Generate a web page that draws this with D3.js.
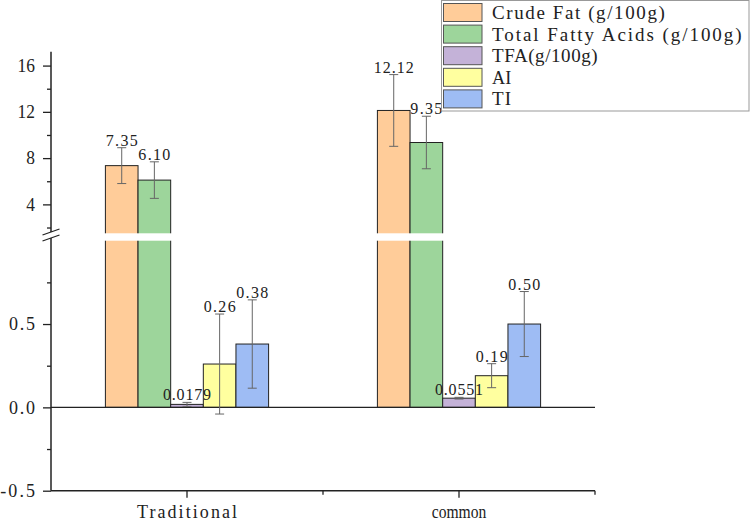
<!DOCTYPE html>
<html>
<head>
<meta charset="utf-8">
<script src="https://cdn.jsdelivr.net/npm/d3@7"></script>
<style>
  body { margin: 0; background: #fff; }
  text { font-family: "Liberation Serif", serif; fill: #222; }
</style>
</head>
<body>
<script>
// groups on the x axis
var groups = ["Traditional", "common"];
// series names (legend order)
var series = ["Crude Fat (g/100g)", "Total Fatty Acids (g/100g)", "TFA(g/100g)", "AI", "TI"];
var colors = ["#FFCC99", "#9DD59B", "#C4B2D8", "#FFFF9F", "#9EBCF4"];
// means, one array per group in series order
var traditionalVals = [7.35, 6.10, 0.0179, 0.26, 0.38];
var commonVals = [12.12, 9.35, 0.0551, 0.19, 0.50];
// standard deviations
var traditionalErr = [1.55, 1.58, 0.012, 0.30, 0.265];
var commonErr = [3.1, 2.27, 0.005, 0.072, 0.195];
// tick values for the two axis segments
var lowTicks = [-0.5, 0.0, 0.5];
var lowMinor = [-0.25, 0.25, 0.75];
var highTicks = [4, 8, 12, 16];
var highMinor = [2, 6, 10, 14];

// spread each character into a fixed cell, like the half-width font of the original
function mono(sel, cw) {
    sel.each(function () {
        var t = d3.select(this);
        var target = t.text().length * cw;
        var natural = this.getComputedTextLength();
        t.attr("textLength", target)
            .attr("lengthAdjust", natural > target ? "spacingAndGlyphs" : "spacing");
    });
}

window.onload = function () {
    var w = 750, h = 522;
    var svg = d3.select("body").append("svg")
        .attr("width", w)
        .attr("height", h);

    var left = 51, right = 595;
    // lower segment and upper segment of the broken axis
    var yLow = d3.scaleLinear().domain([-0.5, 1.0]).range([490.7, 240.7]);
    var yHigh = d3.scaleLinear().domain([1.5, 17.2]).range([233.3, 51.7]);
    function y(v) {
        if (v <= 1.0) return yLow(v);
        if (v >= 1.5) return yHigh(v);
        return 240.7 + (v - 1.0) / 0.5 * (233.3 - 240.7);
    }

    var x0 = d3.scaleBand().domain(groups).range([left, right]).padding(0);
    var x1 = d3.scaleBand().domain(series)
        .range([x0.bandwidth() * 0.2, x0.bandwidth() * 0.8]).padding(0);

    var rows = [
        {group: "Traditional", vals: traditionalVals, errs: traditionalErr},
        {group: "common", vals: commonVals, errs: commonErr}
    ];
    var data = [];
    rows.forEach(function (r) {
        series.forEach(function (s, i) {
            data.push({group: r.group, name: s, value: r.vals[i], err: r.errs[i], color: colors[i]});
        });
    });

    // bars
    svg.selectAll(".bar")
        .data(data)
        .enter()
        .append("rect")
        .attr("class", "bar")
        .attr("x", function (d) { return x0(d.group) + x1(d.name); })
        .attr("width", x1.bandwidth())
        .attr("y", function (d) { return y(d.value); })
        .attr("height", function (d) { return y(0) - y(d.value); })
        .style("fill", function (d) { return d.color; })
        .style("stroke", "#222")
        .style("stroke-width", 1);

    // white strip for the axis break
    svg.append("rect")
        .attr("x", left + 1)
        .attr("y", 233.3)
        .attr("width", right - left - 1)
        .attr("height", 240.7 - 233.3)
        .style("fill", "#fff");

    // zero line
    svg.append("line")
        .attr("x1", left).attr("x2", right)
        .attr("y1", y(0)).attr("y2", y(0))
        .style("stroke", "#222").style("stroke-width", 1.3);

    // error bars
    var eb = svg.selectAll(".err")
        .data(data)
        .enter()
        .append("g")
        .attr("class", "err")
        .style("stroke", "#666")
        .style("stroke-width", 1);
    function cx(d) { return x0(d.group) + x1(d.name) + x1.bandwidth() / 2; }
    eb.append("line")
        .attr("x1", cx).attr("x2", cx)
        .attr("y1", function (d) { return y(d.value + d.err); })
        .attr("y2", function (d) { return y(d.value - d.err); });
    eb.append("line")
        .attr("x1", function (d) { return cx(d) - 4.5; })
        .attr("x2", function (d) { return cx(d) + 4.5; })
        .attr("y1", function (d) { return y(d.value + d.err); })
        .attr("y2", function (d) { return y(d.value + d.err); });
    eb.append("line")
        .attr("x1", function (d) { return cx(d) - 4.5; })
        .attr("x2", function (d) { return cx(d) + 4.5; })
        .attr("y1", function (d) { return y(d.value - d.err); })
        .attr("y2", function (d) { return y(d.value - d.err); });

    // value labels
    var vl = svg.selectAll(".vlabel")
        .data(data)
        .enter()
        .append("text")
        .attr("class", "vlabel")
        .attr("text-anchor", "middle")
        .attr("x", cx)
        .attr("y", function (d) { return y(d.value + d.err) - 2; })
        .attr("font-size", 16)
        .text(function (d) { return d.value < 0.1 ? d.value.toFixed(4) : d.value.toFixed(2); });
    mono(vl, 8);

    // y axes (two segments)
    var fmtLow = function (d) { return d.toFixed(1); };
    var gLow = svg.append("g")
        .attr("transform", "translate(" + left + ",0)")
        .call(d3.axisLeft(yLow).tickValues(lowTicks).tickSize(8).tickPadding(8).tickFormat(fmtLow));
    var gLowMinor = svg.append("g")
        .attr("transform", "translate(" + left + ",0)")
        .call(d3.axisLeft(yLow).tickValues(lowMinor).tickSize(4).tickFormat(""));
    var gHigh = svg.append("g")
        .attr("transform", "translate(" + left + ",0)")
        .call(d3.axisLeft(yHigh).tickValues(highTicks).tickSize(8).tickPadding(8));
    var gHighMinor = svg.append("g")
        .attr("transform", "translate(" + left + ",0)")
        .call(d3.axisLeft(yHigh).tickValues(highMinor).tickSize(4).tickFormat(""));
    [gLow, gLowMinor, gHigh, gHighMinor].forEach(function (g) {
        g.attr("font-family", null).attr("font-size", null);
        g.select(".domain").remove();
        g.selectAll("line").style("stroke", "#222").style("stroke-width", 1.3);
        g.selectAll("text").style("font-family", "Liberation Serif").style("font-size", "18px").style("fill", "#222");
        g.selectAll("text").text(function () { return d3.select(this).text().replace("\u2212", "-"); });
        mono(g.selectAll("text"), 8.7);
    });
    // axis line pieces
    svg.append("line")
        .attr("x1", left).attr("x2", left)
        .attr("y1", yLow.range()[0]).attr("y2", 238)
        .style("stroke", "#222").style("stroke-width", 1.5);
    svg.append("line")
        .attr("x1", left).attr("x2", left)
        .attr("y1", 232).attr("y2", yHigh.range()[1])
        .style("stroke", "#222").style("stroke-width", 1.5);
    // break marks
    [0, 6].forEach(function (off) {
        svg.append("line")
            .attr("x1", 42.5).attr("y1", 235 + off)
            .attr("x2", 59.5).attr("y2", 229 + off)
            .style("stroke", "#222").style("stroke-width", 1.3);
    });

    // x axis at bottom
    var xBottom = yLow.range()[0];
    svg.append("line")
        .attr("x1", left).attr("x2", right)
        .attr("y1", xBottom).attr("y2", xBottom)
        .style("stroke", "#222").style("stroke-width", 1.5);
    var gx = svg.append("g")
        .attr("transform", "translate(0," + xBottom + ")")
        .call(d3.axisBottom(x0).tickSize(7).tickPadding(8));
    gx.attr("font-family", null).attr("font-size", null);
    gx.select(".domain").remove();
    gx.selectAll("line").style("stroke", "#222").style("stroke-width", 1.3);
    gx.selectAll("text").style("font-family", "Liberation Serif").style("font-size", "18px").style("fill", "#222");
    mono(gx.selectAll("text"), 9.1);
    // minor ticks at group boundaries
    var bounds = [x0("common"), right];
    svg.selectAll(".xminor")
        .data(bounds)
        .enter()
        .append("line")
        .attr("x1", function (d) { return d; }).attr("x2", function (d) { return d; })
        .attr("y1", xBottom).attr("y2", xBottom + 4)
        .style("stroke", "#222").style("stroke-width", 1.3);

    // legend
    var legend = svg.append("g").attr("class", "legend");
    legend.append("rect")
        .attr("x", 441.5).attr("y", 0.5)
        .attr("width", 307.5).attr("height", 110.5)
        .style("fill", "#fff")
        .style("stroke", "#999")
        .style("stroke-width", 1);
    var items = legend.selectAll(".item")
        .data(series)
        .enter()
        .append("g")
        .attr("class", "item")
        .attr("transform", function (d, i) { return "translate(443.5," + (3.5 + i * 21.6) + ")"; });
    items.append("rect")
        .attr("width", 38.5).attr("height", 18)
        .style("fill", function (d, i) { return colors[i]; })
        .style("stroke", "#555").style("stroke-width", 1);
    var lt = items.append("text")
        .attr("x", 48.5).attr("y", 15.5)
        .attr("font-size", 19)
        .text(function (d) { return d; });
    mono(lt, 9.6);
};
</script>
</body>
</html>
